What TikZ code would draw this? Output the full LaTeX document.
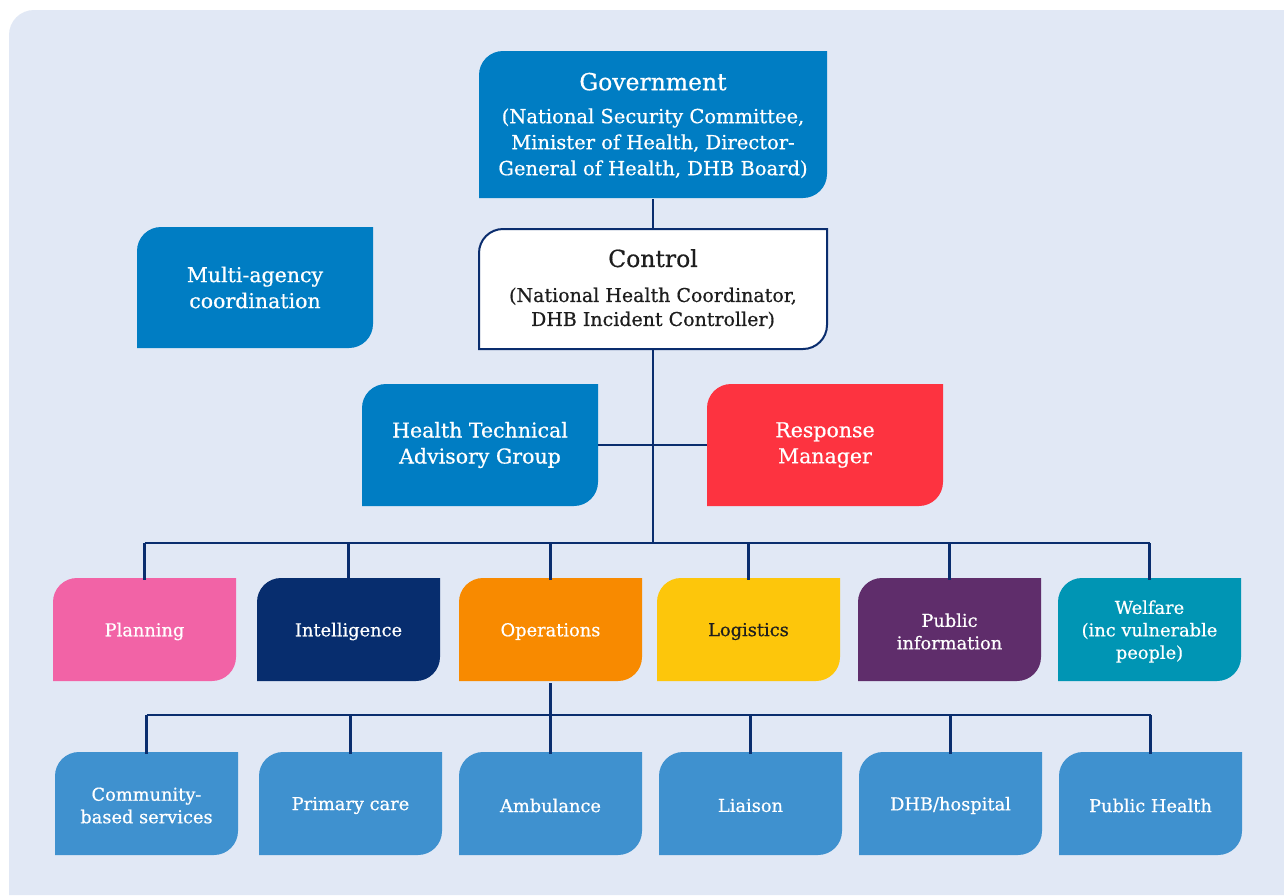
\documentclass[tikz,border=0pt]{standalone}
\usepackage{fontspec}
\setmainfont{DejaVu Serif}[FakeBold=0.6]
\definecolor{panelbg}{HTML}{E1E8F5}
\definecolor{navy}{HTML}{0A2D6E}
\definecolor{govblue}{HTML}{007DC3}
\definecolor{rmred}{HTML}{FD3340}
\definecolor{planpink}{HTML}{F263A6}
\definecolor{intnavy}{HTML}{072D6E}
\definecolor{opsorange}{HTML}{F88A00}
\definecolor{logyellow}{HTML}{FDC60B}
\definecolor{pubpurple}{HTML}{5F2D6B}
\definecolor{welteal}{HTML}{0095B4}
\definecolor{subblue}{HTML}{3F91CF}
\definecolor{darktext}{HTML}{1E1E1E}
\tikzset{
  conn/.style={draw=navy, line width=2.4pt},
  lbl/.style={inner sep=0pt, align=center, text=white},
  lbldark/.style={inner sep=0pt, align=center, text=darktext},
  big/.style={font=\fontsize{20.5}{26}\selectfont},
  mid/.style={font=\fontsize{17.8}{22.5}\selectfont, yshift=-2pt},
  sub/.style={font=\fontsize{19.5}{26}\selectfont},
}
\newcommand\ttl[1]{{\fontsize{23.5}{26}\selectfont #1}}
% #1 name, #2 x1, #3 y1, #4 x2, #5 y2 (pixels, y downward), #6 shape style, #7 node style, #8 text
\newcommand\orgbox[8]{%
  \path[#6] (#2,-#5) -- ({#2},{-#3-24}) arc[start angle=180,end angle=90,radius=24] -- (#4,-#3) -- ({#4},{-#5+24}) arc[start angle=0,end angle=-90,radius=24] -- cycle;
  \node[#7, minimum width={#4-#2}, minimum height={#5-#3}] (#1) at ({(#2+#4)/2},{-(#3+#5)/2}) {#8};
}
\begin{document}
\begin{tikzpicture}[x=1pt,y=1pt]
\useasboundingbox (0,0) rectangle (1284,-895);
\fill[white] (0,0) rectangle (1284,-895);
\fill[panelbg] (9,-895) -- (9,-35) arc[start angle=180,end angle=90,radius=25] -- (1284,-10) -- (1284,-895) -- cycle;

% top
\orgbox{gov}{479}{51}{827}{198}{fill=govblue}{lbl, sub, yshift=-1pt}{\ttl{Government}\\[7pt](National Security Committee,\\ Minister of Health, Director-\\ General of Health, DHB Board)}
\orgbox{ctrl}{479}{229}{827}{349}{fill=white, draw=navy, line width=2pt}{lbldark, font=\fontsize{19}{24}\selectfont}{\ttl{Control}\\[11pt](National Health Coordinator,\\ DHB Incident Controller)}
\orgbox{mac}{137}{227}{373}{348}{fill=govblue}{lbl, big}{Multi-agency\\ coordination}
\orgbox{htag}{362}{384}{598}{506}{fill=govblue}{lbl, big}{Health Technical\\ Advisory Group}
\orgbox{rm}{707}{384}{943}{506}{fill=rmred}{lbl, big}{Response\\ Manager}

% row 2
\orgbox{plan}{53}{578}{236}{681}{fill=planpink}{lbl, mid}{Planning}
\orgbox{intel}{257}{578}{440}{681}{fill=intnavy}{lbl, mid}{Intelligence}
\orgbox{ops}{459}{578}{642}{681}{fill=opsorange}{lbl, mid}{Operations}
\orgbox{logi}{657}{578}{840}{681}{fill=logyellow}{lbldark, mid}{Logistics}
\orgbox{pub}{858}{578}{1041}{681}{fill=pubpurple}{lbl, mid}{Public\\ information}
\orgbox{wel}{1058}{578}{1241}{681}{fill=welteal}{lbl, mid}{Welfare\\ (inc vulnerable\\ people)}

% row 3
\orgbox{comm}{55}{752}{238}{855}{fill=subblue}{lbl, mid}{Community-\\ based services}
\orgbox{prim}{259}{752}{442}{855}{fill=subblue}{lbl, mid}{Primary care}
\orgbox{amb}{459}{752}{642}{855}{fill=subblue}{lbl, mid}{Ambulance}
\orgbox{liai}{659}{752}{842}{855}{fill=subblue}{lbl, mid}{Liaison}
\orgbox{dhb}{859}{752}{1042}{855}{fill=subblue}{lbl, mid}{DHB/hospital}
\orgbox{ph}{1059}{752}{1242}{855}{fill=subblue}{lbl, mid}{Public Health}

% connectors
\coordinate (bus1) at (653,-543);
\coordinate (bus2) at (548,-715);
\draw[conn] (gov.south -| bus1) -- (ctrl.north -| bus1);
\draw[conn] (ctrl.south -| bus1) -- (bus1);
\draw[conn] (htag.east) -- (rm.west);
\draw[conn] (plan.north |- bus1) -- (wel.north |- bus1);
\foreach \n in {plan,intel,ops,logi,pub,wel}
  \draw[conn] (\n.north) -- (\n.north |- bus1);
\draw[conn] (ops.south) -- (ops.south |- bus2);
\draw[conn] (comm.north |- bus2) -- (ph.north |- bus2);
\foreach \n in {comm,prim,amb,liai,dhb,ph}
  \draw[conn] (\n.north) -- (\n.north |- bus2);
\end{tikzpicture}
\end{document}
